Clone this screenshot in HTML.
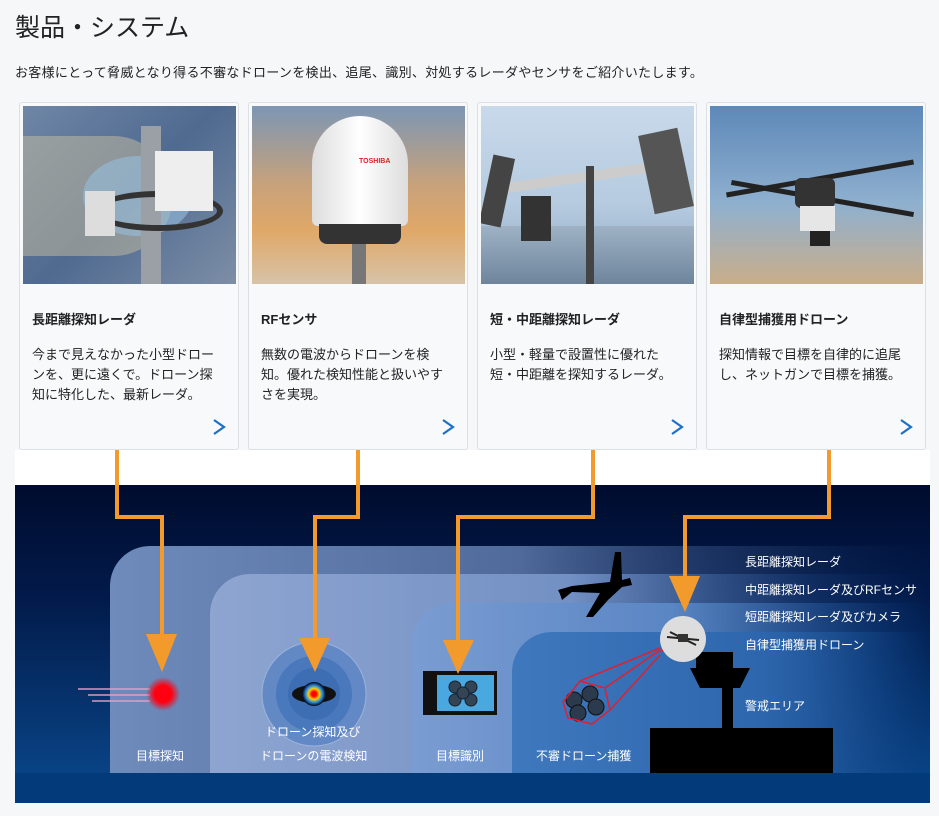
<!DOCTYPE html>
<html><head><meta charset="utf-8"><style>
*{margin:0;padding:0;box-sizing:border-box}
body{width:939px;height:816px;background:#f5f7f9;font-family:"Liberation Sans","Noto Sans CJK JP",sans-serif;color:#222;position:relative;overflow:hidden}
h1{position:absolute;left:15px;top:8px;font-size:25px;font-weight:normal;color:#222;letter-spacing:0px}
.sub{position:absolute;left:15px;top:62px;font-size:13px;letter-spacing:0.3px}
.card{position:absolute;top:102px;width:220px;height:348px;background:#f7f9fb;border:1px solid #dcdfe3;border-radius:3px}
.img{position:absolute;left:3px;top:3px;width:213px;height:178px;overflow:hidden}
.ct{position:absolute;left:12px;top:206px;font-size:13px;font-weight:bold}
.cd{position:absolute;left:12px;top:242px;font-size:13px;line-height:20px;width:188px}
.ar{position:absolute;right:12px;top:315px}
svg text{font-family:"Liberation Sans","Noto Sans CJK JP",sans-serif;fill:#fff;font-size:12px}
</style></head><body>
<h1>製品・システム</h1>
<div class="sub">お客様にとって脅威となり得る不審なドローンを検出、追尾、識別、対処するレーダやセンサをご紹介いたします。</div>

<div class="card" style="left:19px"><div class="img" style="background:linear-gradient(135deg,#6f86a6,#4f6a90 50%,#7d8ea6)">
<div style="position:absolute;left:0;top:30px;width:150px;height:120px;border-radius:0 100px 100px 0;background:rgba(200,190,160,.5)"></div>
<div style="position:absolute;left:60px;top:50px;width:110px;height:80px;border-radius:50%;background:rgba(150,190,220,.6)"></div>
<div style="position:absolute;left:118px;top:20px;width:20px;height:160px;background:#9aa0a6"></div>
<div style="position:absolute;left:70px;top:85px;width:130px;height:40px;border:6px solid #333;border-radius:50%"></div>
<div style="position:absolute;left:132px;top:45px;width:58px;height:60px;background:#eee"></div>
<div style="position:absolute;left:62px;top:85px;width:30px;height:45px;background:#ddd"></div>
</div><div class="ct">長距離探知レーダ</div><div class="cd">今まで見えなかった小型ドローンを、更に遠くで。ドローン探知に特化した、最新レーダ。</div><svg class="ar" width="14" height="18"><polyline points="2,2 12,9 2,16" fill="none" stroke="#1e6fc7" stroke-width="2.2"/></svg></div>

<div class="card" style="left:248px"><div class="img" style="background:linear-gradient(180deg,#7c96b4 0%,#c9a27a 45%,#e0a868 70%,#d7c3a8 100%)">
<div style="position:absolute;left:60px;top:10px;width:96px;height:110px;border-radius:48px 48px 6px 6px;background:linear-gradient(90deg,#ddd,#fff 50%,#ddd)"></div>
<div style="position:absolute;left:67px;top:118px;width:82px;height:20px;background:#333;border-radius:0 0 8px 8px"></div>
<div style="position:absolute;left:100px;top:138px;width:14px;height:42px;background:#777"></div>
<div style="position:absolute;left:107px;top:52px;color:#d22;font-size:7px;font-weight:bold">TOSHIBA</div>
</div><div class="ct">RFセンサ</div><div class="cd">無数の電波からドローンを検知。優れた検知性能と扱いやすさを実現。</div><svg class="ar" width="14" height="18"><polyline points="2,2 12,9 2,16" fill="none" stroke="#1e6fc7" stroke-width="2.2"/></svg></div>

<div class="card" style="left:477px"><div class="img" style="background:linear-gradient(180deg,#c8d9ea 0%,#b6cbe0 55%,#8ea6bf 100%)">
<div style="position:absolute;left:0;top:120px;width:213px;height:58px;background:linear-gradient(180deg,#9fb2c5,#6e859c)"></div>
<div style="position:absolute;left:20px;top:65px;width:180px;height:10px;background:#ccc;transform:rotate(-8deg)"></div>
<div style="position:absolute;left:105px;top:60px;width:8px;height:118px;background:#444"></div>
<div style="position:absolute;left:165px;top:25px;width:40px;height:80px;background:#555;transform:rotate(-12deg)"></div>
<div style="position:absolute;left:5px;top:50px;width:22px;height:70px;background:#444;transform:rotate(12deg)"></div>
<div style="position:absolute;left:40px;top:90px;width:30px;height:45px;background:#333"></div>
</div><div class="ct">短・中距離探知レーダ</div><div class="cd">小型・軽量で設置性に優れた<br>短・中距離を探知するレーダ。</div><svg class="ar" width="14" height="18"><polyline points="2,2 12,9 2,16" fill="none" stroke="#1e6fc7" stroke-width="2.2"/></svg></div>

<div class="card" style="left:706px"><div class="img" style="background:linear-gradient(180deg,#5d88b8 0%,#8fb0cf 55%,#c9ad8a 100%)">
<div style="position:absolute;left:15px;top:70px;width:190px;height:5px;background:#222;transform:rotate(-10deg)"></div>
<div style="position:absolute;left:20px;top:90px;width:185px;height:5px;background:#222;transform:rotate(10deg)"></div>
<div style="position:absolute;left:85px;top:72px;width:40px;height:30px;background:#333;border-radius:6px"></div>
<div style="position:absolute;left:90px;top:100px;width:35px;height:25px;background:#e6e6e6"></div>
<div style="position:absolute;left:100px;top:125px;width:20px;height:15px;background:#222"></div>
</div><div class="ct">自律型捕獲用ドローン</div><div class="cd">探知情報で目標を自律的に追尾し、ネットガンで目標を捕獲。</div><svg class="ar" width="14" height="18"><polyline points="2,2 12,9 2,16" fill="none" stroke="#1e6fc7" stroke-width="2.2"/></svg></div>

<svg width="939" height="816" style="position:absolute;left:0;top:0" viewBox="0 0 939 816">
<defs>
<linearGradient id="bg" x1="0" y1="0" x2="0" y2="1"><stop offset="0" stop-color="#000c2e"/><stop offset="0.35" stop-color="#021a4a"/><stop offset="1" stop-color="#0a4a8e"/></linearGradient>
<linearGradient id="p1" x1="0" y1="0" x2="1" y2="0"><stop offset="0" stop-color="#6f8bbb"/><stop offset="0.5" stop-color="#4f6a9b"/><stop offset="0.8" stop-color="#2b4678" stop-opacity=".4"/><stop offset="1" stop-color="#0a2a60" stop-opacity="0"/></linearGradient>
<linearGradient id="p2" x1="0" y1="0" x2="1" y2="0"><stop offset="0" stop-color="#8ea5d0"/><stop offset="0.5" stop-color="#7390c4"/><stop offset="0.85" stop-color="#1e4a8a" stop-opacity=".2"/><stop offset="1" stop-color="#0a3a78" stop-opacity="0"/></linearGradient>
<linearGradient id="p3" x1="0" y1="0" x2="1" y2="0"><stop offset="0" stop-color="#7a9cd2"/><stop offset="0.5" stop-color="#5a86c4"/><stop offset="1" stop-color="#0c4690" stop-opacity="0"/></linearGradient>
<linearGradient id="p4" x1="0" y1="0" x2="1" y2="0"><stop offset="0" stop-color="#3f78bd"/><stop offset="0.6" stop-color="#2d66ad"/><stop offset="1" stop-color="#0b468c" stop-opacity="0"/></linearGradient>
<radialGradient id="red"><stop offset="0.5" stop-color="#ff0010"/><stop offset="1" stop-color="#ff0010" stop-opacity="0"/></radialGradient>
<radialGradient id="heat"><stop offset="0.2" stop-color="#f00"/><stop offset="0.45" stop-color="#fc0"/><stop offset="0.7" stop-color="#2a8fe0"/><stop offset="1" stop-color="#001"/></radialGradient>
</defs>
<rect x="15" y="450" width="915" height="35" fill="#fff"/>
<rect x="15" y="485" width="915" height="318" fill="url(#bg)"/>
<path d="M110 773 V586 a40 40 0 0 1 40 -40 H930 V773Z" fill="url(#p1)"/>
<path d="M210 773 V614 a40 40 0 0 1 40 -40 H930 V773Z" fill="url(#p2)"/>
<path d="M412 773 V643 a40 40 0 0 1 40 -40 H930 V773Z" fill="url(#p3)"/>
<path d="M512 773 V672 a40 40 0 0 1 40 -40 H930 V773Z" fill="url(#p4)"/>
<rect x="15" y="773" width="915" height="30" fill="#023a7a"/>
<g stroke="#e8a0c8" stroke-width="2" opacity=".7"><line x1="78" y1="689" x2="150" y2="689"/><line x1="88" y1="695" x2="150" y2="695"/><line x1="92" y1="701" x2="150" y2="701"/></g>
<circle cx="163" cy="694" r="17" fill="url(#red)"/>
<circle cx="314" cy="694" r="52" fill="#5a84c4" stroke="#9fb8e0" opacity=".8"/>
<circle cx="314" cy="694" r="38" fill="#4a78bc"/>
<circle cx="314" cy="694" r="26" fill="#3d6eb4"/>
<ellipse cx="314" cy="694" rx="22" ry="9" fill="#111"/>
<circle cx="314" cy="694" r="12" fill="url(#heat)"/>
<rect x="423" y="671" width="74" height="44" fill="#111"/>
<rect x="437" y="675" width="57" height="36" fill="#4aa8e0"/>
<g fill="#345" stroke="#123"><circle cx="455" cy="687" r="6"/><circle cx="471" cy="687" r="6"/><circle cx="455" cy="700" r="6"/><circle cx="471" cy="700" r="6"/><circle cx="463" cy="693" r="6"/></g>
<g fill="#2b3a4c" stroke="#111"><circle cx="574" cy="700" r="8"/><circle cx="590" cy="694" r="8"/><circle cx="578" cy="713" r="8"/><circle cx="596" cy="707" r="8"/></g>
<path d="M563 702 L580 681 L605 688 L610 710 L592 724 L568 718Z M605 688 L660 650 M610 710 L660 655 M580 681 L660 648" fill="none" stroke="#e02030" stroke-width="1.5"/>
<line x1="660" y1="652" x2="690" y2="632" stroke="#e02030" stroke-width="1.5"/>
<path d="M558 590 L572 586 L610 582 L615 552 L621 552 L622 580 L630 578 L632 585 L622 587 L608 600 L593 617 L586 617 L600 593 L572 592 L562 600 L560 594Z" fill="#000"/>
<path d="M696 652 H733 V668 H750 L740 688 H733 V728 H833 V773 H650 V728 H722 V688 H700 L690 668 H696Z" fill="#000"/>
<circle cx="683" cy="639" r="23" fill="#ddd"/>
<g stroke="#222" stroke-width="2"><line x1="667" y1="637" x2="699" y2="640"/><line x1="670" y1="632" x2="696" y2="645"/></g>
<rect x="678" y="634" width="10" height="8" fill="#333"/>
<g fill="none" stroke="#f39a2c" stroke-width="4">
<path d="M117 450 V517 H162 V640"/><path d="M358 450 V517 H315 V640"/><path d="M593 450 V517 H458 V642"/><path d="M829 450 V517 H685 V580"/>
</g>
<g fill="#f39a2c">
<path d="M146 634 H177 L162 672Z"/><path d="M299 638 H330 L315 672Z"/><path d="M443 640 H474 L458 674Z"/><path d="M669 576 H700 L685 612Z"/>
</g>
<text x="136" y="760">目標探知</text>
<text x="265" y="736">ドローン探知及び</text>
<text x="260" y="760">ドローンの電波検知</text>
<text x="436" y="760">目標識別</text>
<text x="536" y="760">不審ドローン捕獲</text>
<text x="745" y="566">長距離探知レーダ</text>
<text x="745" y="594">中距離探知レーダ及びRFセンサ</text>
<text x="745" y="621">短距離探知レーダ及びカメラ</text>
<text x="745" y="649">自律型捕獲用ドローン</text>
<text x="745" y="710">警戒エリア</text>
</svg>
</body></html>
